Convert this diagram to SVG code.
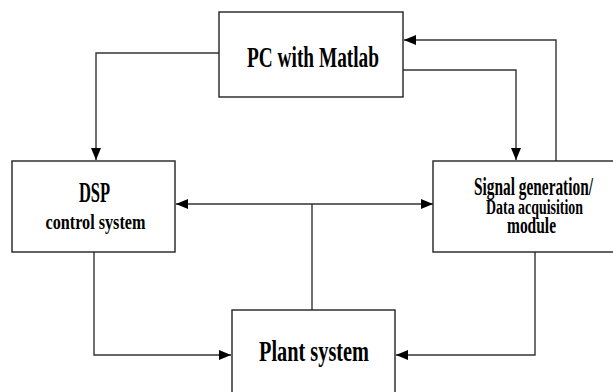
<svg xmlns="http://www.w3.org/2000/svg" width="613" height="392" viewBox="0 0 613 392">
<defs>
<style>
.box{fill:#fff;stroke:#222;stroke-width:1.4}
.ln{fill:none;stroke:#333;stroke-width:1.4}
.t{font-family:"Liberation Serif","Times New Roman",serif;font-weight:bold;fill:#000;text-anchor:middle}
</style>
<marker id="ah" markerUnits="userSpaceOnUse" markerWidth="14" markerHeight="12" refX="12" refY="5" orient="auto">
<path d="M0,0 L12,5 L0,10 z" fill="#000"/>
</marker>
<marker id="ahs" markerUnits="userSpaceOnUse" markerWidth="14" markerHeight="12" refX="0" refY="5" orient="auto">
<path d="M12,0 L0,5 L12,10 z" fill="#000"/>
</marker>
</defs>
<g id="connectors">
<path class="ln" d="M219,53 H96 V160" marker-end="url(#ah)"/>
<path class="ln" d="M403,70 H516 V160" marker-end="url(#ah)"/>
<path class="ln" d="M556,161 V40 H404" marker-end="url(#ah)"/>
<path class="ln" d="M176,204 H433" marker-start="url(#ahs)" marker-end="url(#ah)"/>
<path class="ln" d="M312,204 V310"/>
<path class="ln" d="M94,252 V355 H231" marker-end="url(#ah)"/>
<path class="ln" d="M535,252 V355 H396" marker-end="url(#ah)"/>
</g>
<g id="pc">
<rect class="box" x="219" y="12" width="184" height="85"/>
<text class="t" transform="translate(313,67) scale(0.644,1)" font-size="30">PC with Matlab</text>
</g>
<g id="dsp">
<rect class="box" x="12" y="161" width="163" height="91"/>
<text class="t" transform="translate(94.5,202) scale(0.55,1)" font-size="30">DSP</text>
<text class="t" transform="translate(95.5,229) scale(0.81,1)" font-size="20">control system</text>
</g>
<g id="signal">
<rect class="box" x="433" y="161" width="190" height="91"/>
<text class="t" transform="translate(533.5,195) scale(0.614,1)" font-size="25">Signal generation/</text>
<text class="t" transform="translate(534.5,214) scale(0.695,1)" font-size="20">Data acquisition</text>
<text class="t" transform="translate(531.5,233) scale(0.673,1)" font-size="23">module</text>
</g>
<g id="plant">
<rect class="box" x="232" y="310" width="163" height="90"/>
<text class="t" transform="translate(314,361) scale(0.677,1)" font-size="30">Plant system</text>
</g>
</svg>
